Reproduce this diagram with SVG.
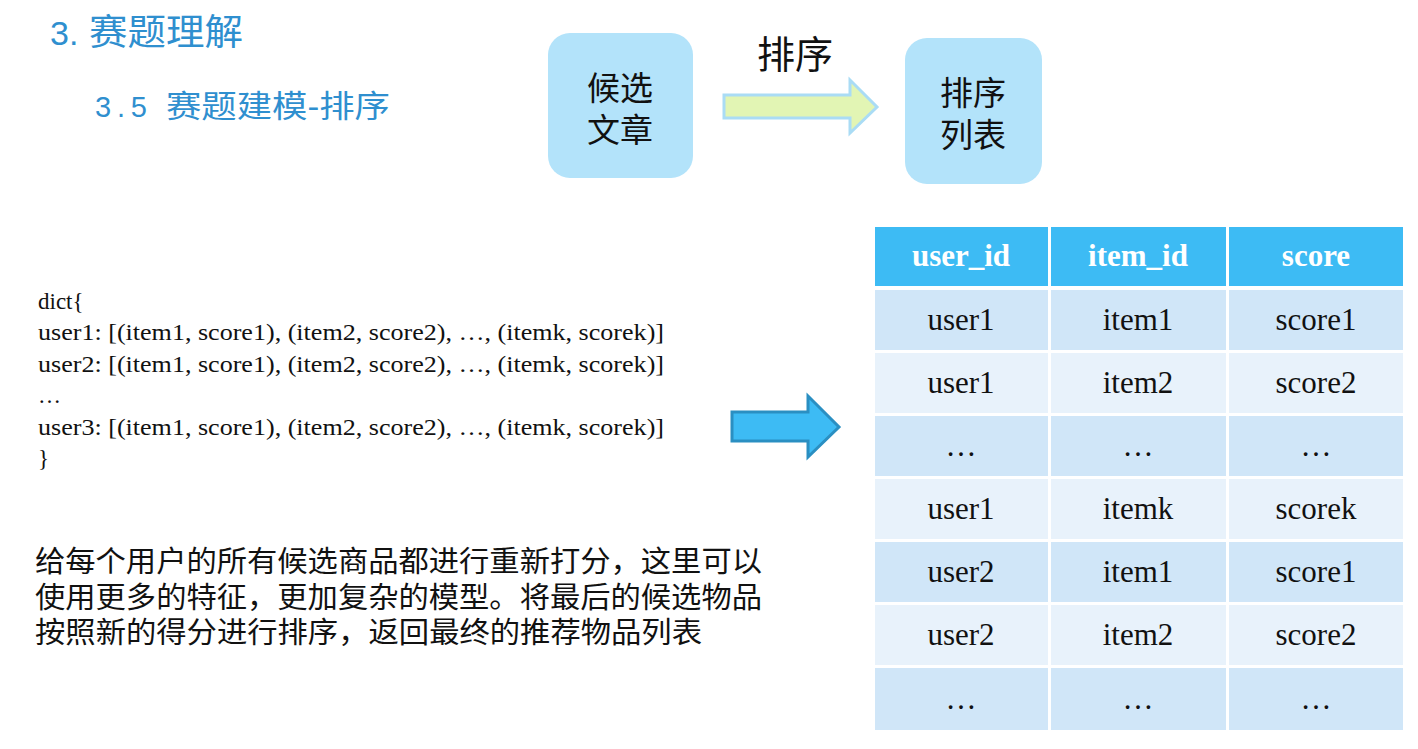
<svg xmlns="http://www.w3.org/2000/svg" width="1418" height="749" viewBox="0 0 1418 749">
  <style>
    .title { font-family: "Liberation Sans", "Noto Sans CJK SC", sans-serif; fill: #2f8fcf; }
    .box { fill: #b3e3fa; }
    .boxtxt { font-family: "Liberation Serif", "Noto Sans CJK SC", serif; font-size: 33px; fill: #111; text-anchor: middle; }
    .code { font-family: "Liberation Serif", serif; font-size: 23px; fill: #111; }
    .para { font-family: "Liberation Serif", "Noto Sans CJK SC", serif; font-size: 29px; fill: #111; }
    .hdr { fill: #3dbbf4; }
    .rowA { fill: #d0e6f8; }
    .rowB { fill: #e8f2fb; }
    .hdrtxt { font-family: "Liberation Serif", serif; font-size: 31px; font-weight: bold; fill: #ffffff; text-anchor: middle; }
    .celltxt { font-family: "Liberation Serif", serif; font-size: 31px; fill: #111; text-anchor: middle; }
  </style>

  <rect width="1418" height="749" fill="#ffffff"/>

  <!-- headings -->
  <g id="headings">
    <text class="title" x="50" y="45" font-size="34">3.</text>
    <text class="title" x="89" y="45" font-size="36" textLength="154" lengthAdjust="spacingAndGlyphs">赛题理解</text>
    <text class="title" x="95" y="117" font-size="29" textLength="52" lengthAdjust="spacing">3.5</text>
    <text class="title" x="166" y="117" font-size="31" textLength="224" lengthAdjust="spacingAndGlyphs">赛题建模-排序</text>
  </g>

  <!-- pipeline nodes -->
  <g id="node-candidates">
    <rect class="box" x="548" y="33" width="145" height="145" rx="22"/>
    <text class="boxtxt" x="620" y="100">候选</text>
    <text class="boxtxt" x="620" y="142">文章</text>
  </g>
  <g id="node-ranked">
    <rect class="box" x="905" y="38" width="137" height="146" rx="22"/>
    <text class="boxtxt" x="973" y="105">排序</text>
    <text class="boxtxt" x="973" y="147">列表</text>
  </g>

  <g id="connectors">
    <!-- block arrow: candidates -> ranked list -->
    <polygon points="724,95 850,95 850,80 877,107 850,133 850,118 724,118" fill="#e2f5b4" stroke="#aadcf5" stroke-width="3"/>
    <text x="795" y="68" font-family="Liberation Serif, Noto Sans CJK SC, serif" font-size="38" fill="#111" text-anchor="middle">排序</text>
    <!-- block arrow: dict -> table -->
    <polygon points="732,412 808,412 808,396 839,427 808,457 808,441 732,441" fill="#3dbbf4" stroke="#2a8fc2" stroke-width="3"/>
  </g>

  <!-- dict listing -->
  <g id="dict-listing">
    <text class="code" x="38" y="309">dict{</text>
    <text class="code" x="38" y="340" textLength="626" lengthAdjust="spacingAndGlyphs">user1: [(item1, score1), (item2, score2), …, (itemk, scorek)]</text>
    <text class="code" x="38" y="372" textLength="626" lengthAdjust="spacingAndGlyphs">user2: [(item1, score1), (item2, score2), …, (itemk, scorek)]</text>
    <text class="code" x="38" y="403">…</text>
    <text class="code" x="38" y="435" textLength="626" lengthAdjust="spacingAndGlyphs">user3: [(item1, score1), (item2, score2), …, (itemk, scorek)]</text>
    <text class="code" x="38" y="466">}</text>
  </g>

  <!-- description -->
  <g id="description">
    <text class="para" x="35" y="572" textLength="727" lengthAdjust="spacingAndGlyphs">给每个用户的所有候选商品都进行重新打分，这里可以</text>
    <text class="para" x="35" y="608" textLength="727" lengthAdjust="spacingAndGlyphs">使用更多的特征，更加复杂的模型。将最后的候选物品</text>
    <text class="para" x="35" y="643" textLength="667" lengthAdjust="spacingAndGlyphs">按照新的得分进行排序，返回最终的推荐物品列表</text>
  </g>

  <!-- score table -->
  <g id="score-table">
    <rect class="hdr" x="875" y="227" width="173" height="59"/>
    <rect class="hdr" x="1051" y="227" width="175" height="59"/>
    <rect class="hdr" x="1229" y="227" width="174" height="59"/>
    <text class="hdrtxt" x="961" y="266">user_id</text>
    <text class="hdrtxt" x="1138" y="266">item_id</text>
    <text class="hdrtxt" x="1316" y="266">score</text>

    <g id="row1">
      <rect class="rowA" x="875" y="290" width="173" height="60"/>
      <rect class="rowA" x="1051" y="290" width="175" height="60"/>
      <rect class="rowA" x="1229" y="290" width="174" height="60"/>
      <text class="celltxt" x="961" y="330">user1</text>
      <text class="celltxt" x="1138" y="330">item1</text>
      <text class="celltxt" x="1316" y="330">score1</text>
    </g>
    <g id="row2">
      <rect class="rowB" x="875" y="353" width="173" height="60"/>
      <rect class="rowB" x="1051" y="353" width="175" height="60"/>
      <rect class="rowB" x="1229" y="353" width="174" height="60"/>
      <text class="celltxt" x="961" y="393">user1</text>
      <text class="celltxt" x="1138" y="393">item2</text>
      <text class="celltxt" x="1316" y="393">score2</text>
    </g>
    <g id="row3">
      <rect class="rowA" x="875" y="416" width="173" height="60"/>
      <rect class="rowA" x="1051" y="416" width="175" height="60"/>
      <rect class="rowA" x="1229" y="416" width="174" height="60"/>
      <text class="celltxt" x="961" y="456">…</text>
      <text class="celltxt" x="1138" y="456">…</text>
      <text class="celltxt" x="1316" y="456">…</text>
    </g>
    <g id="row4">
      <rect class="rowB" x="875" y="479" width="173" height="60"/>
      <rect class="rowB" x="1051" y="479" width="175" height="60"/>
      <rect class="rowB" x="1229" y="479" width="174" height="60"/>
      <text class="celltxt" x="961" y="519">user1</text>
      <text class="celltxt" x="1138" y="519">itemk</text>
      <text class="celltxt" x="1316" y="519">scorek</text>
    </g>
    <g id="row5">
      <rect class="rowA" x="875" y="542" width="173" height="60"/>
      <rect class="rowA" x="1051" y="542" width="175" height="60"/>
      <rect class="rowA" x="1229" y="542" width="174" height="60"/>
      <text class="celltxt" x="961" y="582">user2</text>
      <text class="celltxt" x="1138" y="582">item1</text>
      <text class="celltxt" x="1316" y="582">score1</text>
    </g>
    <g id="row6">
      <rect class="rowB" x="875" y="605" width="173" height="60"/>
      <rect class="rowB" x="1051" y="605" width="175" height="60"/>
      <rect class="rowB" x="1229" y="605" width="174" height="60"/>
      <text class="celltxt" x="961" y="645">user2</text>
      <text class="celltxt" x="1138" y="645">item2</text>
      <text class="celltxt" x="1316" y="645">score2</text>
    </g>
    <g id="row7">
      <rect class="rowA" x="875" y="668" width="173" height="62"/>
      <rect class="rowA" x="1051" y="668" width="175" height="62"/>
      <rect class="rowA" x="1229" y="668" width="174" height="62"/>
      <text class="celltxt" x="961" y="709">…</text>
      <text class="celltxt" x="1138" y="709">…</text>
      <text class="celltxt" x="1316" y="709">…</text>
    </g>
  </g>
</svg>
